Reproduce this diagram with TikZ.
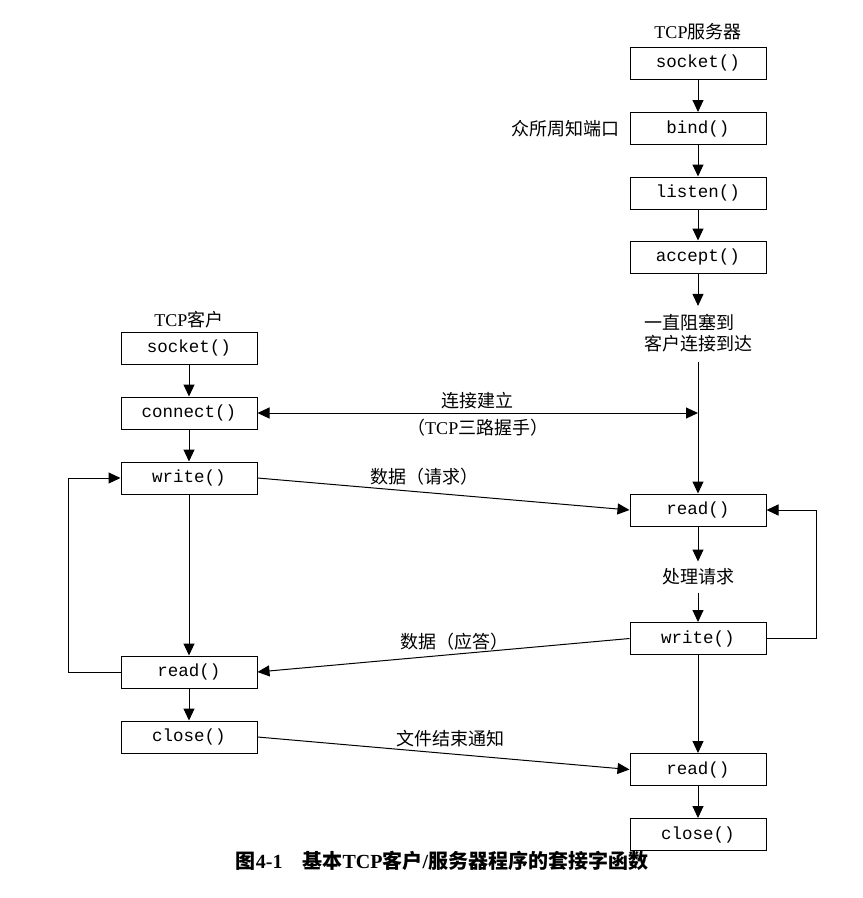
\documentclass[tikz,border=0pt]{standalone}
\usepackage{fontspec}
\setmainfont{Liberation Serif}
\setmonofont{Liberation Mono}
\newfontfamily\cjk{Noto Sans CJK SC}
\usetikzlibrary{arrows.meta,positioning}

\tikzset{
  fn/.style={draw,line width=1pt,minimum width=136pt,minimum height=32pt,inner sep=0pt,font=\fontsize{17.5}{20}\selectfont\ttfamily},
  txt/.style={font=\fontsize{18}{21}\selectfont},
  zh/.style={font=\fontsize{18}{21}\selectfont\cjk},
  wire/.style={line width=1pt},
  flow/.style={line width=1pt,->}
}

\begin{document}
\begin{tikzpicture}[x=1pt,y=-1pt,>={Triangle[length=12pt,width=11pt]}]

% white page, same size as the scan
\useasboundingbox[fill=white] (0,0) rectangle (863,898);

% server side
\node[txt] (srvname) at (698,32) {TCP\cjk 服务器};
\node[fn] (ssocket) at (698,63) {socket()};
\node[fn] (sbind) at (698,128.5) {bind()};
\node[fn] (slisten) at (698,193) {listen()};
\node[fn] (saccept) at (698,257) {accept()};
\node[zh,align=left,inner sep=8pt] (sblock) at (698,333) {一直阻塞到\\客户连接到达};
\node[fn] (sread) at (698,510) {read()};
\node[zh,inner sep=7pt] (sproc) at (698,577) {处理请求};
\node[fn] (swrite) at (698,638.5) {write()};
\node[fn] (sread2) at (698,769.5) {read()};
\node[fn] (sclose) at (698,834.5) {close()};
\node[zh,left=6pt of sbind] (wellknown) {众所周知端口};

% client side
\node[txt] (cliname) at (189,320) {TCP\cjk 客户};
\node[fn] (csocket) at (189,348) {socket()};
\node[fn] (cconnect) at (189,413) {connect()};
\node[fn] (cwrite) at (189,478) {write()};
\node[fn] (cread) at (189,672) {read()};
\node[fn] (cclose) at (189,737) {close()};

% where the handshake meets the server line
\coordinate (hs) at (698,413);
\coordinate (stop) at (698,362);

% server flow
\draw[flow] (ssocket) -- (sbind);
\draw[flow] (sbind) -- (slisten);
\draw[flow] (slisten) -- (saccept);
\draw[flow] (saccept) -- (sblock);
\draw[flow] (stop) -- (sread);
\draw[flow] (sread) -- (sproc);
\draw[flow] (sproc) -- (swrite);
\draw[flow] (swrite) -- (sread2);
\draw[flow] (sread2) -- (sclose);
\draw[flow] (swrite.east) -- ++(50,0) |- (sread.east);

% client flow
\draw[flow] (csocket) -- (cconnect);
\draw[flow] (cconnect) -- (cwrite);
\draw[flow] (cwrite) -- (cread);
\draw[flow] (cread) -- (cclose);
\draw[flow] (cread.west) -- ++(-52,0) |- (cwrite.west);

% between client and server
\draw[wire,<->] (cconnect.east) -- (hs)
  node[zh,midway,above] {连接建立}
  node[midway,below=2pt,font=\fontsize{18}{21}\selectfont] {{\cjk （}TCP{\cjk 三路握手）}};
\draw[flow] (cwrite.east) -- (sread.west) node[zh,pos=0.45,above=3pt] {数据（请求）};
\draw[flow] (swrite.west) -- (cread.east) node[zh,pos=0.47,above] {数据（应答）};
\draw[flow] (cclose.east) -- (sread2.west) node[zh,pos=0.52,above=3pt] {文件结束通知};

% caption
\node[font=\fontsize{20}{24}\selectfont\bfseries] (caption) at (442,861)
  {{\cjk 图}4-1\hspace{1em}{\cjk 基本}TCP{\cjk 客户}/{\cjk 服务器程序的套接字函数}};

\end{tikzpicture}
\end{document}
